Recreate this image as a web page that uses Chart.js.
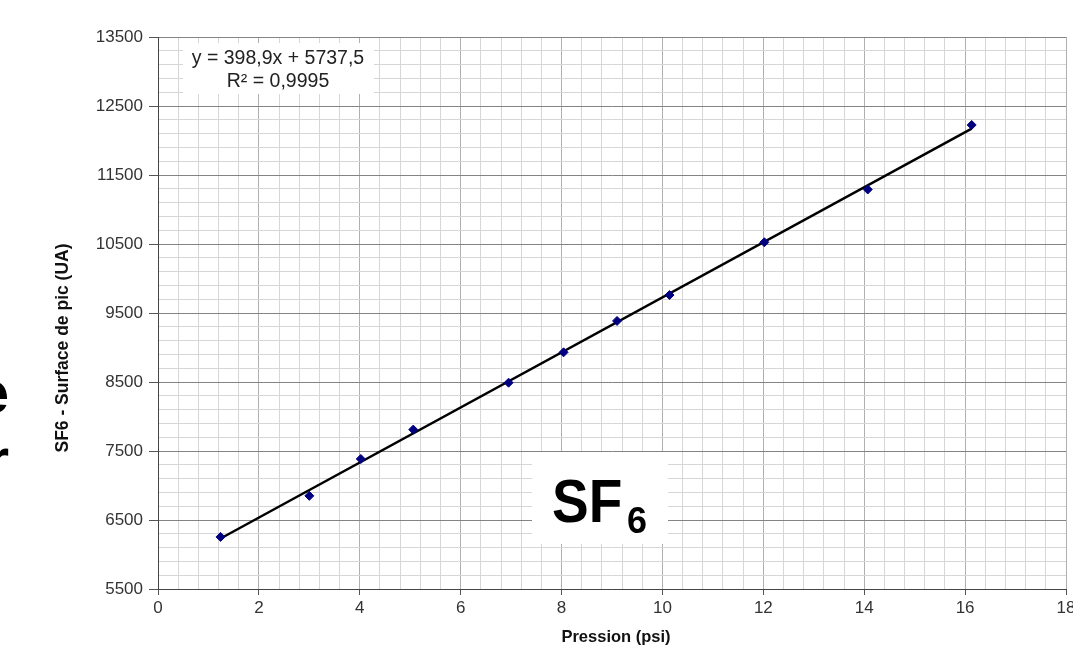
<!DOCTYPE html>
<html>
<head>
<meta charset="utf-8">
<script src="https://cdn.jsdelivr.net/npm/chart.js@4/dist/chart.umd.min.js"></script>
<style>
  html, body { margin: 0; padding: 0; background: #fff; overflow: hidden; }
  #wrap { width: 1080px; height: 655px; position: relative; }
</style>
</head>
<body>
<div id="wrap"><canvas id="sf6Chart"></canvas></div>
<script>
// calibration points
const pressure = [1.24, 3.0, 4.02, 5.06, 6.95, 8.04, 9.1, 10.14, 12.02, 14.07, 16.13];
const peakArea = [6255, 6850, 7385, 7810, 8490, 8930, 9385, 9760, 10525, 11290, 12225];

// linear trend as printed on the chart
const slope = 398.9;
const intercept = 5737.5;
const equationLines = ['y = 398,9x + 5737,5', 'R² = 0,9995'];

const xRange = [0, 18];
const yRange = [5500, 13500];
const xTitle = 'Pression (psi)';
const yTitle = 'SF6 - Surface de pic (UA)';

const FONT = "'Liberation Sans', Arial, sans-serif";

const points = pressure.map((p, i) => ({ x: p, y: peakArea[i] }));
const xMin = Math.min(...pressure);
const xMax = Math.max(...pressure);
const trend = [xMin, xMax].map(x => ({ x: x, y: slope * x + intercept }));

const isMajorX = v => Math.abs(v / 2 - Math.round(v / 2)) < 1e-6;
const isMajorY = v => Math.abs((v - yRange[0]) % 1000) < 1e-6;

const overlayPlugin = {
  id: 'overlay',
  afterDraw(chart) {
    const ctx = chart.ctx;
    const area = chart.chartArea;
    ctx.save();

    // equation box
    ctx.fillStyle = '#fff';
    ctx.fillRect(area.left + 25, area.top + 6, 191, 51);
    ctx.fillStyle = '#222';
    ctx.font = '19.5px ' + FONT;
    ctx.textAlign = 'center';
    ctx.textBaseline = 'middle';
    ctx.fillText(equationLines[0], area.left + 120, area.top + 22);
    ctx.fillText(equationLines[1], area.left + 120, area.top + 45);

    // SF6 label
    ctx.fillStyle = '#fff';
    ctx.fillRect(532, 452, 136, 92);
    ctx.fillStyle = '#000';
    ctx.textAlign = 'left';
    ctx.textBaseline = 'alphabetic';
    ctx.save();
    ctx.translate(552, 522);
    ctx.scale(1, 1.1);
    ctx.font = 'bold 55px ' + FONT;
    ctx.fillText('SF', 0, 0);
    ctx.restore();
    ctx.font = 'bold 36px ' + FONT;
    ctx.fillText('6', 627, 533);

    // axis titles
    ctx.fillStyle = '#111';
    ctx.font = 'bold 16.5px ' + FONT;
    ctx.textAlign = 'center';
    ctx.textBaseline = 'middle';
    ctx.fillText(xTitle, (area.left + area.right) / 2 + 4, 637);
    ctx.save();
    ctx.translate(63, 348);
    ctx.rotate(-Math.PI / 2);
    ctx.font = 'bold 17.5px ' + FONT;
    ctx.fillText(yTitle, 0, 0);
    ctx.restore();

    // clipped slide text at the left edge
    ctx.fillStyle = '#000';
    ctx.font = 'bold 60px ' + FONT;
    ctx.textAlign = 'right';
    ctx.textBaseline = 'alphabetic';
    ctx.fillText('e', 9, 413);
    ctx.fillText('r', 9, 480);

    ctx.restore();
  }
};

new Chart(document.getElementById('sf6Chart'), {
  type: 'scatter',
  data: {
    datasets: [
      {
        label: 'points',
        data: points,
        pointStyle: 'rectRot',
        pointRadius: 4.5,
        pointHoverRadius: 4.5,
        backgroundColor: '#000080',
        borderColor: '#000080',
        borderWidth: 1,
        order: 1
      },
      {
        label: 'trend',
        type: 'line',
        data: trend,
        borderColor: '#000',
        borderWidth: 2.5,
        pointRadius: 0,
        fill: false,
        order: 2
      }
    ]
  },
  options: {
    responsive: true,
    maintainAspectRatio: false,
    animation: false,
    layout: {
      padding: { left: 0, right: 14, top: 37, bottom: 0 }
    },
    plugins: {
      legend: { display: false },
      tooltip: { enabled: false }
    },
    scales: {
      x: {
        type: 'linear',
        min: xRange[0],
        max: xRange[1],
        afterFit(scale) { scale.height = 66; },
        border: { color: '#444', width: 1 },
        grid: {
          color: ctx => isMajorX(ctx.tick.value) ? '#b0b0b0' : '#d6d6d6',
          tickColor: ctx => isMajorX(ctx.tick.value) ? '#555' : 'rgba(0,0,0,0)',
          tickLength: 6,
          lineWidth: 1
        },
        ticks: {
          stepSize: 0.4,
          autoSkip: false,
          maxRotation: 0,
          padding: 3,
          color: '#333',
          font: { family: FONT, size: 17 },
          callback: v => isMajorX(v) ? String(Math.round(v)) : ''
        }
      },
      y: {
        type: 'linear',
        min: yRange[0],
        max: yRange[1],
        afterFit(scale) { scale.width = 158; },
        border: { color: '#444', width: 1 },
        grid: {
          color: ctx => isMajorY(ctx.tick.value) ? '#848484' : '#d6d6d6',
          tickColor: ctx => isMajorY(ctx.tick.value) ? '#555' : 'rgba(0,0,0,0)',
          tickLength: 9,
          lineWidth: 1
        },
        ticks: {
          stepSize: 200,
          autoSkip: false,
          padding: 6,
          color: '#333',
          font: { family: FONT, size: 17 },
          callback: v => isMajorY(v) ? String(v) : ''
        }
      }
    }
  },
  plugins: [overlayPlugin]
});
</script>
</body>
</html>
